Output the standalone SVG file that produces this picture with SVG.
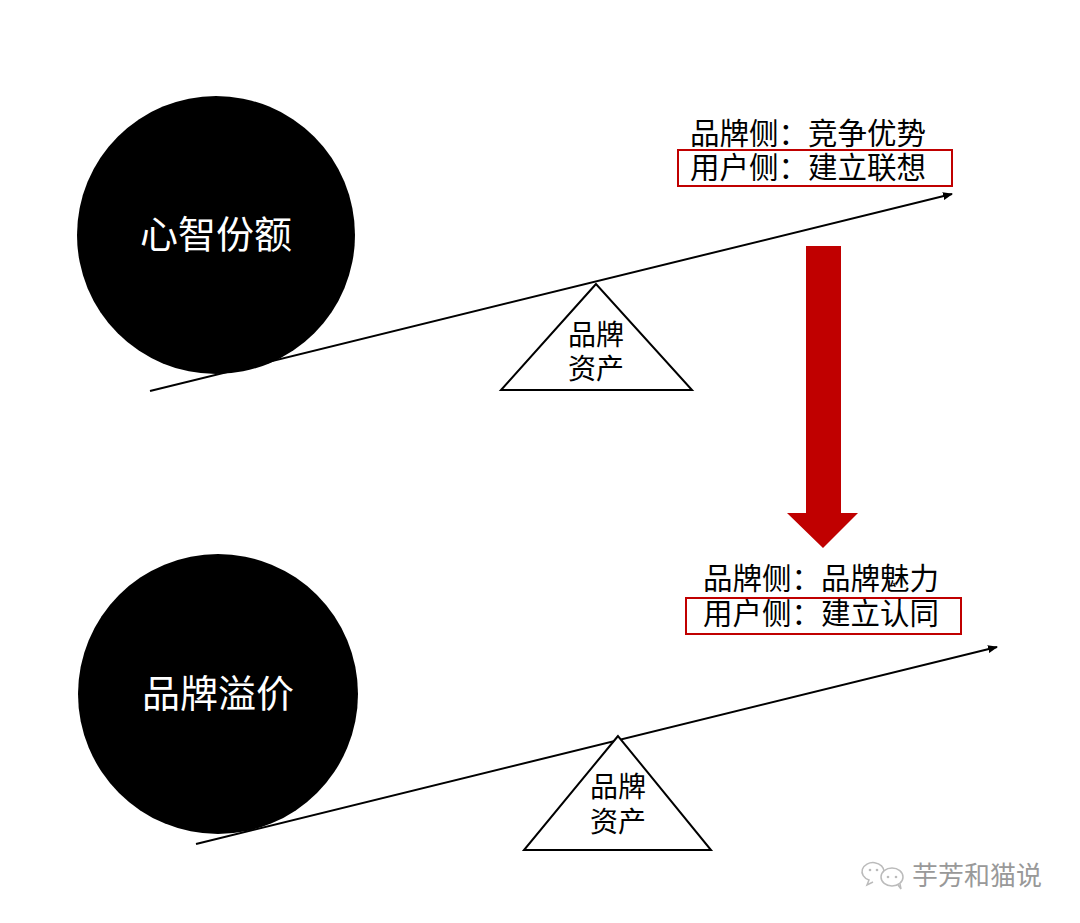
<svg xmlns="http://www.w3.org/2000/svg" width="1080" height="923" viewBox="0 0 1080 923">
<style>
.t{font-family:"Liberation Serif","Noto Sans CJK SC",serif;fill:#000}
.c{font-family:"Noto Sans CJK SC",sans-serif;fill:#fff;font-size:38px;text-anchor:middle}
.lbl{font-size:29.5px}
.tri{fill:#fff;stroke:#000;stroke-width:2}
.box{fill:none;stroke:#c00000;stroke-width:2}
.ln{stroke:#000;stroke-width:2;fill:none}
</style>
<defs>
<marker id="ah" markerWidth="10" markerHeight="8" refX="9" refY="4" orient="auto" markerUnits="userSpaceOnUse" viewBox="0 0 10 8">
<path d="M0,0 L10,4 L0,8 z" fill="#000"/>
</marker>
</defs>
<rect width="1080" height="923" fill="#fff"/>
<g id="circle1"><circle cx="216" cy="235" r="139" fill="#000"/><text class="c" x="216" y="248">心智份额</text></g>
<g id="circle2"><circle cx="218" cy="694" r="140" fill="#000"/><text class="c" x="218" y="707">品牌溢价</text></g>
<g id="connectors">
<line class="ln" x1="150" y1="391" x2="952" y2="194" marker-end="url(#ah)"/>
<line class="ln" x1="196" y1="844" x2="997" y2="647" marker-end="url(#ah)"/>
</g>
<g id="fulcrum1"><polygon class="tri" points="596,284 501,390 692,390"/>
<text class="t" x="596" y="345" font-size="28" text-anchor="middle">品牌</text>
<text class="t" x="596" y="379" font-size="28" text-anchor="middle">资产</text></g>
<g id="fulcrum2"><polygon class="tri" points="618,736 524,850 711,850"/>
<text class="t" x="618" y="797" font-size="28" text-anchor="middle">品牌</text>
<text class="t" x="618" y="832" font-size="28" text-anchor="middle">资产</text></g>
<g id="label1">
<text class="t lbl" x="690" y="144">品牌侧：竞争优势</text>
<rect class="box" x="678" y="150" width="274" height="36"/>
<text class="t lbl" x="690" y="178">用户侧：建立联想</text>
</g>
<g id="label2">
<text class="t lbl" x="703" y="589">品牌侧：品牌魅力</text>
<rect class="box" x="686" y="598" width="275" height="36"/>
<text class="t lbl" x="703" y="624">用户侧：建立认同</text>
</g>
<g id="bigarrow"><polygon points="806,246 841,246 841,513 858,513 823,548 787,513 806,513" fill="#c00000"/></g>
<g id="watermark">
<g fill="none" stroke="#bbb" stroke-width="1.5">
<path d="M884,872 a11,9 0 1 0 -15,8 l-2,5 l6,-3"/>
<ellipse cx="892" cy="877" rx="11" ry="9" fill="#fff"/>
<path d="M898,885 l3,4 l-1,-5"/>
</g>
<circle cx="870" cy="870" r="1.3" fill="#bbb"/><circle cx="877" cy="870" r="1.3" fill="#bbb"/>
<circle cx="888" cy="877" r="1.3" fill="#bbb"/><circle cx="896" cy="877" r="1.3" fill="#bbb"/>
<text x="912" y="885" font-family="Noto Sans CJK SC,sans-serif" font-size="26" fill="#999">芋芳和猫说</text>
</g>
</svg>
